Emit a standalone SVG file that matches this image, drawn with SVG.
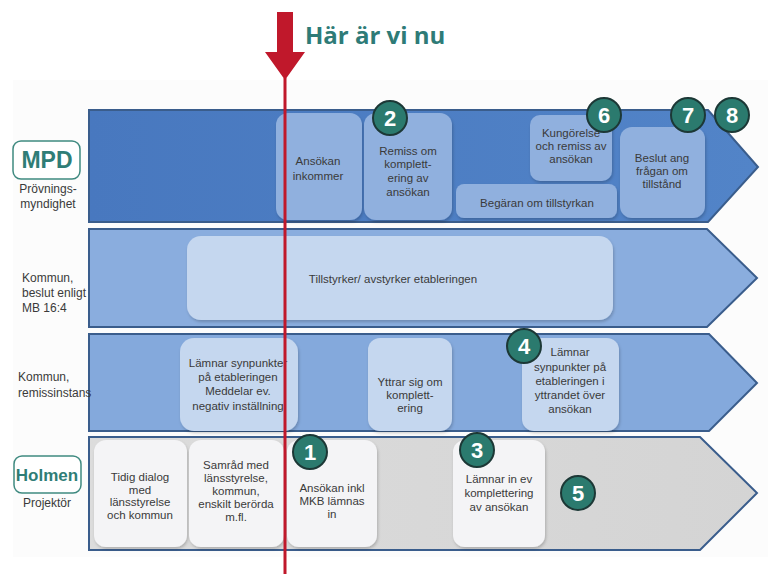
<svg xmlns="http://www.w3.org/2000/svg" width="768" height="574" viewBox="0 0 768 574">
<style>
.lane{stroke:#3a5d8c;stroke-width:2}
.t{font-family:"Liberation Sans",Arial,sans-serif;font-size:11.5px;fill:#3a3a3a;text-anchor:middle}
.lbl{font-family:"Liberation Sans",Arial,sans-serif;font-size:12px;fill:#3a3a3a}
.num{font-family:"Liberation Sans",Arial,sans-serif;font-size:22px;font-weight:bold;fill:#fff;text-anchor:middle}
.circ{fill:#2b7a6e;stroke:#1c3836;stroke-width:2}
.tag{fill:#fff;stroke:#3f8a80;stroke-width:1.5}
.tagt{font-family:"Liberation Sans",Arial,sans-serif;font-weight:bold;fill:#2f7d76;text-anchor:middle}
</style>
<defs>
<filter id="sh" x="-10%" y="-10%" width="130%" height="130%"><feDropShadow dx="1" dy="2" stdDeviation="1.5" flood-color="#000" flood-opacity="0.2"/></filter>
<linearGradient id="g1" x1="0" x2="1" y1="0" y2="0"><stop offset="0" stop-color="#4878bf"/><stop offset="1" stop-color="#5284c8"/></linearGradient>
<linearGradient id="g4" x1="0" x2="1" y1="0" y2="0"><stop offset="0" stop-color="#dcdcdc"/><stop offset="1" stop-color="#d4d4d4"/></linearGradient>
</defs>
<rect x="0" y="0" width="768" height="574" fill="#ffffff"/>
<rect x="13" y="80" width="755" height="477" fill="#fcfcfc"/>

<g id="lane-mpd">
<polygon class="lane" points="89,110 708,110 758,167 708,222 89,222" fill="url(#g1)"/>
<rect x="13" y="141" width="67" height="38" rx="8" class="tag"/>
<text x="47" y="168" class="tagt" font-size="23">MPD</text>
<text x="48" y="193" class="lbl" text-anchor="middle">Prövnings-</text>
<text x="48" y="208" class="lbl" text-anchor="middle">myndighet</text>
</g>
<g id="lane-kommun-beslut">
<polygon class="lane" points="89,229 707,229 757,278 707,327 89,327" fill="#8aadde"/>
<text x="22" y="282" class="lbl">Kommun,</text>
<text x="22" y="297" class="lbl">beslut enligt</text>
<text x="22" y="312" class="lbl">MB 16:4</text>
</g>
<g id="lane-kommun-remiss">
<polygon class="lane" points="89,334 709,334 757,383 709,431 89,431" fill="#84a9dc"/>
<text x="18" y="381" class="lbl">Kommun,</text>
<text x="18" y="397" class="lbl">remissinstans</text>
</g>
<g id="lane-holmen">
<polygon class="lane" points="89,437 700,437 757,493 700,550 89,550" fill="url(#g4)"/>
<rect x="14" y="456" width="67" height="37" rx="8" class="tag"/>
<text x="47" y="481" class="tagt" font-size="17">Holmen</text>
<text x="47" y="507" class="lbl" text-anchor="middle">Projektör</text>
</g>

<g id="n-ansokan-inkommer">
<rect x="276" y="113" width="86" height="107" rx="12" fill="#90b0de" filter="url(#sh)"/>
<text x="318" y="165" class="t">Ansökan</text>
<text x="318" y="180" class="t">inkommer</text>
</g>
<g id="n-remiss">
<rect x="364" y="113" width="88" height="107" rx="12" fill="#90b0de" filter="url(#sh)"/>
<text x="408" y="155" class="t">Remiss om</text>
<text x="408" y="168" class="t">komplett-</text>
<text x="408" y="182" class="t">ering av</text>
<text x="408" y="196" class="t">ansökan</text>
</g>
<g id="n-kungorelse">
<rect x="530" y="115" width="82" height="66" rx="10" fill="#90b0de" filter="url(#sh)"/>
<text x="571" y="137" class="t">Kungörelse</text>
<text x="571" y="150" class="t">och remiss av</text>
<text x="571" y="163" class="t">ansökan</text>
</g>
<g id="n-begaran">
<rect x="456" y="184" width="161" height="34" rx="8" fill="#90b0de" filter="url(#sh)"/>
<text x="537" y="207" class="t">Begäran om tillstyrkan</text>
</g>
<g id="n-beslut">
<rect x="620" y="127" width="85" height="91" rx="12" fill="#90b0de" filter="url(#sh)"/>
<text x="662" y="162" class="t">Beslut ang</text>
<text x="662" y="175" class="t">frågan om</text>
<text x="662" y="188" class="t">tillstånd</text>
</g>

<g id="n-tillstyrker">
<rect x="187" y="236" width="426" height="84" rx="14" fill="#c5d7ef" filter="url(#sh)"/>
<text x="393" y="283" class="t">Tillstyrker/ avstyrker etableringen</text>
</g>

<g id="n-lamnar-synpunkter">
<rect x="180" y="338" width="118" height="93" rx="14" fill="#c5d7ef" filter="url(#sh)"/>
<text x="238" y="367" class="t">Lämnar synpunkter</text>
<text x="238" y="381" class="t">på etableringen</text>
<text x="238" y="395" class="t">Meddelar ev.</text>
<text x="238" y="410" class="t">negativ inställning</text>
</g>
<g id="n-yttrar">
<rect x="368" y="338" width="84" height="93" rx="12" fill="#c5d7ef" filter="url(#sh)"/>
<text x="410" y="386" class="t">Yttrar sig om</text>
<text x="410" y="399" class="t">komplett-</text>
<text x="410" y="412" class="t">ering</text>
</g>
<g id="n-lamnar-yttrande">
<rect x="522" y="338" width="97" height="93" rx="12" fill="#c5d7ef" filter="url(#sh)"/>
<text x="570" y="356" class="t">Lämnar</text>
<text x="570" y="371" class="t">synpunkter  på</text>
<text x="570" y="385" class="t">etableringen i</text>
<text x="570" y="399" class="t">yttrandet över</text>
<text x="570" y="413" class="t">ansökan</text>
</g>

<g id="n-tidig-dialog">
<rect x="94" y="440" width="93" height="107" rx="12" fill="#f4f4f6" filter="url(#sh)"/>
<text x="140" y="481" class="t">Tidig dialog</text>
<text x="140" y="494" class="t">med</text>
<text x="140" y="506" class="t">länsstyrelse</text>
<text x="140" y="519" class="t">och kommun</text>
</g>
<g id="n-samrad">
<rect x="189" y="440" width="95" height="107" rx="12" fill="#f4f4f6" filter="url(#sh)"/>
<text x="236" y="469" class="t">Samråd med</text>
<text x="236" y="482" class="t">länsstyrelse,</text>
<text x="236" y="495" class="t">kommun,</text>
<text x="236" y="508" class="t">enskilt berörda</text>
<text x="236" y="521" class="t">m.fl.</text>
</g>
<g id="n-ansokan-inkl">
<rect x="287" y="440" width="90" height="107" rx="12" fill="#f4f4f6" filter="url(#sh)"/>
<text x="332" y="492" class="t">Ansökan  inkl</text>
<text x="332" y="505" class="t">MKB lämnas</text>
<text x="332" y="518" class="t">in</text>
</g>
<g id="n-lamnar-in">
<rect x="453" y="440" width="92" height="107" rx="12" fill="#f4f4f6" filter="url(#sh)"/>
<text x="499" y="483" class="t">Lämnar in  ev</text>
<text x="499" y="497" class="t">komplettering</text>
<text x="499" y="511" class="t">av ansökan</text>
</g>

<g id="markers">
<g id="m1"><circle cx="310" cy="452" r="17" class="circ"/><text x="310" y="460" class="num">1</text></g>
<g id="m2"><circle cx="390" cy="118" r="17" class="circ"/><text x="390" y="126" class="num">2</text></g>
<g id="m3"><circle cx="477" cy="450" r="17" class="circ"/><text x="477" y="458" class="num">3</text></g>
<g id="m4"><circle cx="524" cy="346" r="17" class="circ"/><text x="524" y="354" class="num">4</text></g>
<g id="m5"><circle cx="578" cy="493" r="17" class="circ"/><text x="578" y="501" class="num">5</text></g>
<g id="m6"><circle cx="604" cy="115" r="17" class="circ"/><text x="604" y="123" class="num">6</text></g>
<g id="m7"><circle cx="688" cy="115" r="17" class="circ"/><text x="688" y="123" class="num">7</text></g>
<g id="m8"><circle cx="732" cy="115" r="17" class="circ"/><text x="732" y="123" class="num">8</text></g>
</g>

<g id="connectors">
<line x1="285" y1="78" x2="285" y2="574" stroke="#c0182b" stroke-width="3"/>
<polygon points="277,12 293,12 293,52 305,52 285,80 265,52 277,52" fill="#c0182b"/>
</g>
<g id="here">
<text x="305" y="44" font-family="'Open Sans','Liberation Sans',sans-serif" font-size="24" font-weight="bold" fill="#2e7b77">Här är vi nu</text>
</g>
</svg>
